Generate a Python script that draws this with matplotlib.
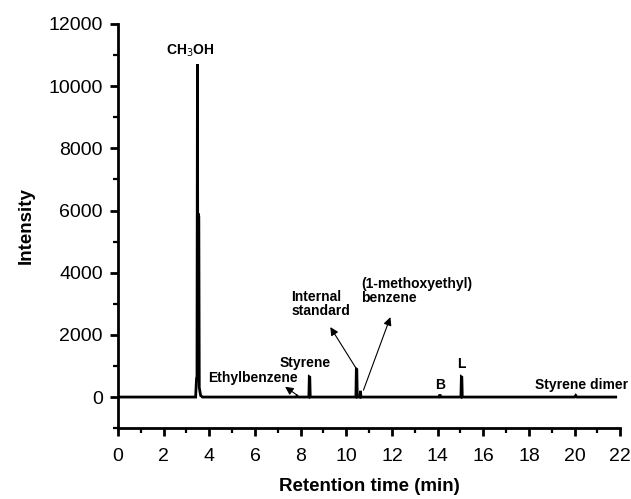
import matplotlib
matplotlib.use("Agg")
import matplotlib.pyplot as plt
from matplotlib.ticker import MultipleLocator

plt.rcParams['font.family'] = ['Liberation Sans', 'DejaVu Sans']

# chromatogram trace (retention time, intensity)
rt = [0.0, 3.40, 3.44, 3.46, 3.48, 3.50, 3.52, 3.54, 3.56, 3.62, 3.70,
      7.80, 7.84, 7.88, 8.36, 8.38, 8.40, 8.42,
      10.42, 10.44, 10.46, 10.48, 10.60, 10.62, 10.64,
      14.06, 14.10, 14.14, 15.02, 15.04, 15.06, 15.08,
      20.00, 20.05, 20.10, 21.80]
intensity = [0, 0, 600, 650, 10700, 600, 5900, 5800, 300, 50, 0,
             0, 30, 0, 0, 650, 640, 0,
             0, 900, 890, 0, 0, 200, 0,
             0, 80, 0, 0, 650, 640, 0,
             0, 50, 0, 0]

labels = ["CH$_3$OH", "Ethylbenzene", "Styrene", "Internal\nstandard",
          "(1-methoxyethyl)\nbenzene", "B", "L", "Styrene dimer"]
label_x = [3.16, 5.9, 8.2, 7.6, 10.65, 14.1, 15.05, 20.3]
label_y = [11150, 620, 1090, 3000, 3400, 390, 1060, 390]
label_ha = ["center", "center", "center", "left", "left", "center", "center", "center"]

# arrows: (tip, tail)
arrow_tip = [(7.32, 330), (9.3, 2250), (11.93, 2570)]
arrow_tail = [(7.85, 60), (10.45, 900), (10.75, 220)]

fig = plt.figure(figsize=(6.31, 4.99), dpi=100)
ax = fig.add_axes([0.187, 0.142, 0.796, 0.81])

ax.plot(rt, intensity, color="black", lw=2.0, solid_joinstyle="miter")

for t, x, y, ha in zip(labels, label_x, label_y, label_ha):
    ax.text(x, y, t, ha=ha, va="center", fontsize=10, fontweight="bold",
            linespacing=1.0)

for tip, tail in zip(arrow_tip, arrow_tail):
    ax.annotate("", xy=tip, xytext=tail,
                arrowprops=dict(arrowstyle="-|>", color="black", lw=0.8,
                                mutation_scale=12, shrinkA=0, shrinkB=0))

ax.set_xlim(0, 22)
ax.set_ylim(-1000, 12000)
ax.xaxis.set_major_locator(MultipleLocator(2))
ax.xaxis.set_minor_locator(MultipleLocator(1))
ax.yaxis.set_minor_locator(MultipleLocator(1000))
ax.set_yticks([0, 2000, 4000, 6000, 8000, 10000, 12000])

for s in ["top", "right"]:
    ax.spines[s].set_visible(False)
for s in ["left", "bottom"]:
    ax.spines[s].set_linewidth(2.0)

ax.tick_params(which="major", direction="out", length=6, width=2.0,
               labelsize=14, pad=5)
ax.tick_params(axis="x", which="major", pad=8)
ax.tick_params(which="minor", direction="out", length=3.5, width=1.6)

ax.set_xlabel("Retention time (min)", fontsize=13.5, fontweight="bold", labelpad=10)
ax.set_ylabel("Intensity", fontsize=13.5, fontweight="bold", labelpad=10)

fig.savefig("out.png", dpi=100)
